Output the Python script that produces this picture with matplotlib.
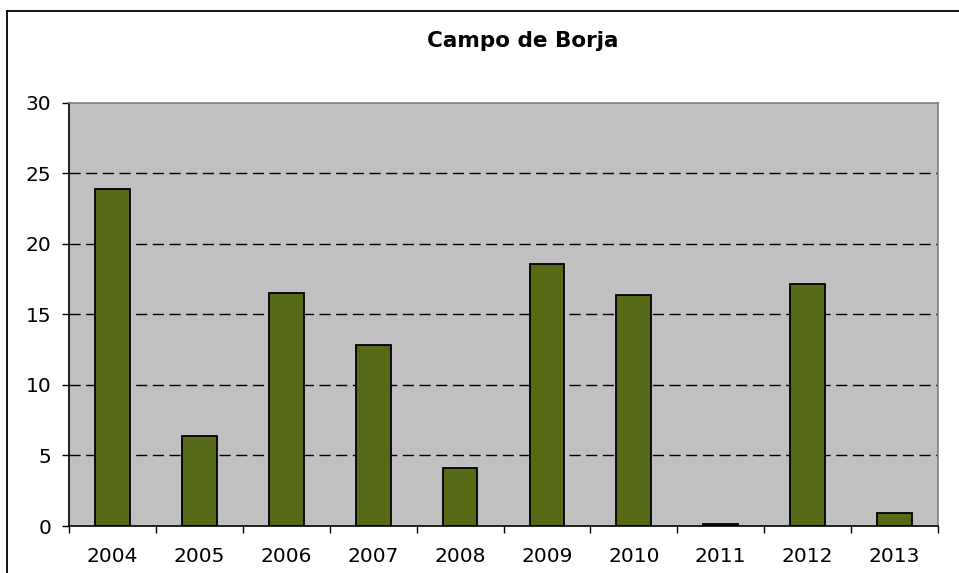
import matplotlib
matplotlib.use("Agg")
import matplotlib.pyplot as plt
from matplotlib.lines import Line2D
import numpy as np

years = ["2004", "2005", "2006", "2007", "2008", "2009", "2010", "2011", "2012", "2013"]
values = [23.9, 6.35, 16.5, 12.85, 4.1, 18.55, 16.4, 0.12, 17.13, 0.95]
yticks = [0, 5, 10, 15, 20, 25, 30]
title = "Campo de Borja"

W, H = 959, 573
fig = plt.figure(figsize=(W / 100, H / 100), dpi=100)
plt.rcParams['font.family'] = ['DejaVu Sans']

x0, x1 = 69.3, 937.7
y0, y1 = 526.0, 102.7
ax = fig.add_axes([x0 / W, 1 - y0 / H, (x1 - x0) / W, (y0 - y1) / H])
ax.set_facecolor("#C0C0C0")

x = np.arange(len(years))
ax.bar(x, values, width=0.4, color="#566A16", edgecolor="black", linewidth=1.3, zorder=3)

ax.set_xlim(-0.5, len(years) - 0.5)
ax.set_ylim(0, 30)
ax.set_yticks(yticks)
ax.set_yticklabels([str(v) for v in yticks], fontsize=14.5)
for v in yticks[1:-1]:
    ax.axhline(v, color="black", linewidth=1.0, linestyle=(0, (8, 4)), zorder=2)

ax.set_xticks(x)
ax.set_xticklabels(years, fontsize=14.5)
ax.tick_params(axis='x', length=0, pad=15)
ax.set_xticks(np.arange(-0.5, len(years)), minor=True)
ax.tick_params(axis='x', which='minor', length=5, width=1, direction='out', color='black')
ax.tick_params(axis='y', length=5, width=1, direction='out', pad=8, color='black')

for s in ['left', 'bottom']:
    ax.spines[s].set_color('black')
    ax.spines[s].set_linewidth(1.2)
for s in ['top', 'right']:
    ax.spines[s].set_color('#808080')
    ax.spines[s].set_linewidth(1.2)

fig.text(523 / W, 1 - 41 / H, title, ha='center', va='center', fontsize=15.5, fontweight='bold')

# outer chart frame (top and left edges visible)
fig.add_artist(Line2D([7 / W, 7 / W], [0, 1 - 10.5 / H], transform=fig.transFigure, color='black', linewidth=1.3))
fig.add_artist(Line2D([7 / W, 1], [1 - 10.5 / H, 1 - 10.5 / H], transform=fig.transFigure, color='black', linewidth=1.3))

fig.savefig("out.png", dpi=100, facecolor='white')
